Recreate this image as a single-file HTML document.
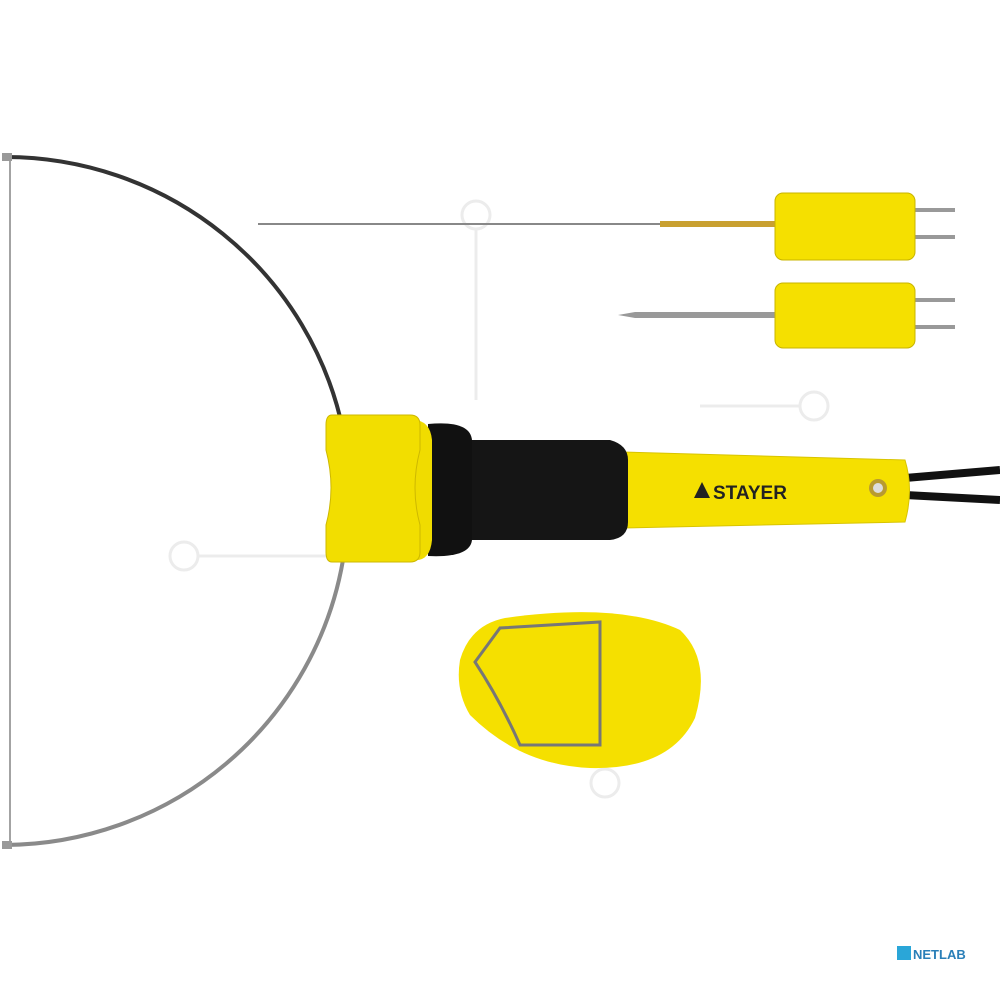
<!DOCTYPE html>
<html><head><meta charset="utf-8"><style>html,body{margin:0;padding:0;background:#fff}svg{display:block}</style></head>
<body>
<svg width="1000" height="1000" viewBox="0 0 1000 1000" xmlns="http://www.w3.org/2000/svg">
<rect width="1000" height="1000" fill="#fff"/>
<!-- watermark -->
<g fill="none" stroke="#ececec" stroke-width="3">
<circle cx="476" cy="215" r="14"/><circle cx="184" cy="556" r="14"/><circle cx="814" cy="406" r="14"/><circle cx="605" cy="783" r="14"/>
<path d="M476 230 L476 400 M198 556 L330 556 M800 406 L700 406 M605 768 L605 640"/>
</g>
<!-- bow -->
<line x1="10" y1="157" x2="10" y2="845" stroke="#666" stroke-width="1.2"/>
<path d="M5 157 A345 343 0 0 1 343 430" fill="none" stroke="#333" stroke-width="4"/>
<path d="M343 560 A345 343 0 0 1 5 845" fill="none" stroke="#8a8a8a" stroke-width="4"/>
<rect x="2" y="153" width="10" height="8" fill="#999"/>
<rect x="2" y="841" width="10" height="8" fill="#999"/>
<!-- tip 1 -->
<line x1="258" y1="224" x2="662" y2="224" stroke="#888" stroke-width="2"/>
<rect x="660" y="221" width="118" height="6" fill="#c9a030"/>
<rect x="913" y="208" width="42" height="4" fill="#999"/>
<rect x="913" y="235" width="42" height="4" fill="#999"/>
<rect x="775" y="193" width="140" height="67" rx="8" fill="#f5e000" stroke="#c8b400"/>
<!-- tip 2 -->
<path d="M618 315 L635 312 L780 312 L780 318 L635 318 Z" fill="#999"/>
<rect x="913" y="298" width="42" height="4" fill="#999"/>
<rect x="913" y="325" width="42" height="4" fill="#999"/>
<rect x="775" y="283" width="140" height="65" rx="8" fill="#f5e000" stroke="#c8b400"/>
<!-- cable -->
<path d="M905 478 L1000 470 M905 495 L1000 500" stroke="#111" stroke-width="8"/>
<!-- handle -->
<path d="M622 452 L905 460 Q914 490 905 522 L622 528 Z" fill="#f5e000" stroke="#d8c400"/>
<circle cx="878" cy="488" r="9" fill="#b89a30"/><circle cx="878" cy="488" r="5" fill="#ddd"/>
<text x="713" y="499" font-family="Liberation Sans, sans-serif" font-weight="bold" font-size="19" fill="#222">STAYER</text>
<path d="M694 498 L702 482 L710 498 Z" fill="#222"/>
<path d="M465 440 L610 440 Q628 445 628 460 L628 522 Q628 538 610 540 L465 540 Z" fill="#151515"/>
<path d="M428 424 Q470 420 472 440 L472 540 Q470 558 428 556 Z" fill="#111"/>
<path d="M413 420 Q430 420 432 440 L432 540 Q430 562 413 560 Z" fill="#f0dc00"/>
<path d="M332 415 L410 415 Q420 415 420 425 L420 450 Q410 488 420 525 L420 552 Q420 562 410 562 L332 562 Q326 562 326 552 L326 525 Q336 488 326 450 L326 425 Q326 415 332 415 Z" fill="#f2de00" stroke="#cdb800"/>
<!-- stand -->
<path d="M505 618 Q620 602 680 630 Q712 660 695 718 Q670 770 590 768 Q520 765 470 715 Q455 690 460 660 Q470 625 505 618 Z" fill="#f5e000"/>
<path d="M600 622 L600 745 L520 745 Q500 700 475 662 L500 628 Z" fill="none" stroke="#777" stroke-width="3"/>
<!-- logo -->
<rect x="897" y="946" width="14" height="14" fill="#2aa6d8"/>
<text x="913" y="959" font-family="Liberation Sans, sans-serif" font-weight="bold" font-size="13" fill="#2a7fb8">NETLAB</text>
</svg>
</body></html>
